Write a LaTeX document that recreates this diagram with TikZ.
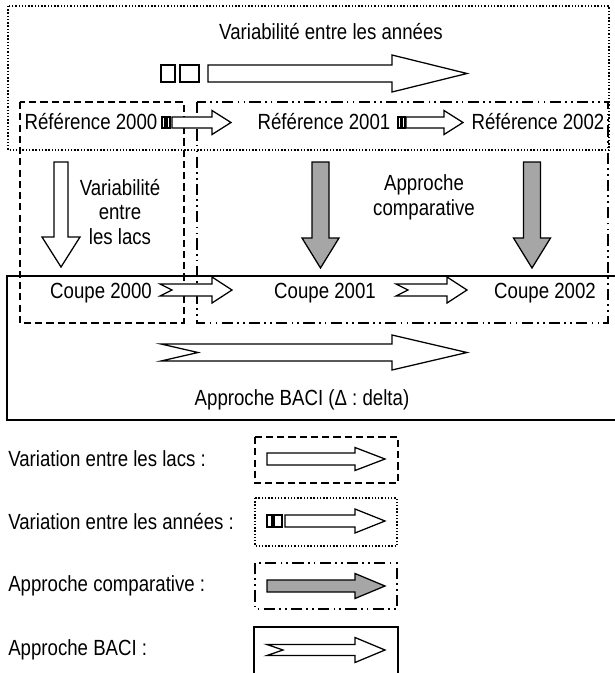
\documentclass[tikz,border=0pt]{standalone}
\usepackage{fontspec}
\setmainfont{Liberation Sans}[FakeStretch=0.85]

% fleches en bloc : longueur, demi-tige, demi-tete, longueur tete (, encoche)
\tikzset{
  pics/fleche/.style n args={4}{code={
    \path[pic actions] (0,-#2) -- ({#1-#4},-#2) -- ({#1-#4},-#3) -- (#1,0)
      -- ({#1-#4},#3) -- ({#1-#4},#2) -- (0,#2) -- cycle;
  }},
  pics/flecheBACI/.style n args={5}{code={
    \path[pic actions] (0,-#2) -- ({#1-#4},-#2) -- ({#1-#4},-#3) -- (#1,0)
      -- ({#1-#4},#3) -- ({#1-#4},#2) -- (0,#2) -- (#5,0) -- cycle;
  }},
}

\begin{document}
\begin{tikzpicture}[x=0.025cm, y=-0.025cm,
    every node/.style={font=\fontsize{15.6}{17.4}\selectfont, inner sep=0pt},
    annees/.style={line width=1pt, dash pattern=on 1pt off 1.3pt},
    lacs/.style={line width=1.3pt, dash pattern=on 5pt off 3pt},
    comp/.style={line width=1pt, dash pattern=on 8pt off 3pt on 1.2pt off 3pt on 1.2pt off 3pt},
    baci/.style={line width=1pt},
    bloc/.style={draw, line width=0.9pt, fill=white, line join=miter},
    blocgris/.style={bloc, fill=black!35},
    carre/.style={draw, line width=0.9pt}]
  \useasboundingbox (0,0) rectangle (615,673);

  % Cadres
  \draw[annees] (8,6) rectangle (609,150);
  \draw[lacs] (20,102) rectangle (184,323);
  \draw[comp] (197,102) rectangle (608,323);
  \draw[baci] (615,276) -| (7,420) -- (615,420);

  % Variabilite entre les annees
  \node (titre) at (331,32) {Variabilité entre les années};
  \draw[carre] (161,65) rectangle (175,82);
  \draw[carre] (180,65) rectangle (199,82);
  \pic[bloc] at (208,73.5) {fleche={259}{8.5}{18.5}{75}};

  % References
  \node (ref2000) at (91,122) {Référence 2000};
  \node (ref2001) at (324,122) {Référence 2001};
  \node (ref2002) at (538,122) {Référence 2002};
  \draw[carre] (162,117) rectangle (165,128);
  \draw[carre] (167,117) rectangle (170,128);
  \pic[bloc] at (172,122.5) {fleche={59}{5.5}{12}{19}};
  \draw[carre] (398,117) rectangle (401,128);
  \draw[carre] (402,117) rectangle (405,128);
  \pic[bloc] at (406,122.5) {fleche={57}{5.5}{12}{19}};

  % Fleches verticales
  \pic[bloc, rotate=-90] at (61,162) {fleche={105}{7}{19}{30}};
  \pic[blocgris, rotate=-90] at (320.5,162) {fleche={106}{8.5}{18.5}{30}};
  \pic[blocgris, rotate=-90] at (532,162) {fleche={106}{8.5}{18.5}{30}};
  \node[align=center] (lacsTxt) at (120,212) {Variabilité\\entre\\les lacs};
  \node[align=center] (compTxt) at (424,197.5) {Approche\\comparative};

  % Coupes
  \node (coupe2000) at (101,293) {Coupe 2000};
  \node (coupe2001) at (325,293) {Coupe 2001};
  \node (coupe2002) at (545,293) {Coupe 2002};
  \pic[bloc] at (160,290) {flecheBACI={72}{6}{13}{20}{12}};
  \pic[bloc] at (396,290) {flecheBACI={71}{6}{13}{20}{12}};

  % BACI
  \pic[bloc] at (161,352.5) {flecheBACI={306}{8.5}{17.5}{75}{37}};
  \node (baciTxt) at (302,400) {Approche BACI (Δ : delta)};

  % Legende
  \node[anchor=west] (legLacs) at (8,459) {Variation entre les lacs :};
  \node[anchor=west] (legAnnees) at (8,522) {Variation entre les années :};
  \node[anchor=west] (legComp) at (8,586) {Approche comparative :};
  \node[anchor=west] (legBaci) at (8,650) {Approche BACI :};

  \draw[lacs] (255,437) rectangle (398,483);
  \pic[bloc] at (267,459) {fleche={118}{6}{11.5}{30}};

  \draw[annees] (255,498) rectangle (397,546);
  \draw[carre] (267,515) rectangle (272,527);
  \draw[carre] (274,515) rectangle (282,527);
  \pic[bloc] at (285,521) {fleche={100}{6}{12}{30}};

  \draw[comp] (255,563) rectangle (397,609);
  \pic[blocgris] at (267,586) {fleche={118}{6}{12.5}{30}};

  \draw[baci] (254,673) |- (398,627) -- (398,673);
  \pic[bloc] at (267,650) {flecheBACI={118}{5.5}{12.5}{30}{16}};
\end{tikzpicture}
\end{document}
